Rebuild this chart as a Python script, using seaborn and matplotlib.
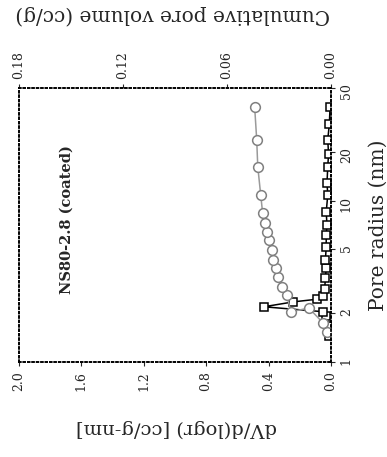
import matplotlib
matplotlib.use("Agg")
import matplotlib.pyplot as plt
import seaborn as sns

# pore radius (nm) / cumulative pore volume (cc/g), in measured order
cum_radius = [1.54, 1.75, 2.16, 2.05, 2.61, 2.92, 3.37, 3.84, 4.30, 4.96,
              5.73, 6.42, 7.30, 8.42, 10.9, 16.3, 23.9, 38.4]
cum_volume = [0.0023, 0.0046, 0.0127, 0.0231, 0.0255, 0.0284, 0.0307, 0.0318,
              0.0336, 0.0341, 0.0359, 0.0370, 0.0382, 0.0394, 0.0405, 0.0422,
              0.0428, 0.0440]

# pore radius (nm) / dV/d(logr) (cc/g-nm)
psd_radius = [1.45, 1.67, 1.93, 2.05, 2.2, 2.36, 2.45, 2.55, 2.85, 3.3, 3.85,
              4.3, 5.2, 6.1, 7.1, 8.5, 10.9, 12.9, 16.3, 19.5, 23.9, 30.0, 38.4]
psd_dv = [0.01, 0.02, 0.03, 0.05, 0.43, 0.24, 0.09, 0.05, 0.04, 0.035, 0.03,
          0.035, 0.03, 0.03, 0.025, 0.03, 0.02, 0.025, 0.02, 0.015, 0.02, 0.01,
          0.005]

dv_ticks = [2.0, 1.6, 1.2, 0.8, 0.4, 0.0]
cum_ticks = [0.18, 0.12, 0.06, 0.00]
radius_ticks = [1, 2, 5, 10, 20, 50]

sns.set_style("white")
plt.rcParams["font.family"] = ["DejaVu Serif"]

fig = plt.figure(figsize=(3.87, 4.57), dpi=100)
ax = fig.add_axes([0.049, 0.208, 0.806, 0.599])

sns.lineplot(x=psd_dv, y=psd_radius, sort=False, estimator=None, ax=ax,
             color="black", lw=1.1, marker="s", markersize=6,
             markerfacecolor="white", markeredgecolor="black", markeredgewidth=1.1)

ax.set_yscale("log")
ax.set_ylim(1, 50)
ax.set_xlim(2.0, 0.0)
ax.set_yticks(radius_ticks)
ax.set_yticklabels([str(t) for t in radius_ticks])
ax.yaxis.set_minor_locator(matplotlib.ticker.NullLocator())
ax.yaxis.tick_right()
ax.set_xticks(dv_ticks)
ax.set_xticklabels([f"{t:.1f}" for t in dv_ticks])
ax.tick_params(axis="x", labelsize=9, labelrotation=90, direction="out", length=3)
ax.tick_params(axis="y", labelsize=9, labelrotation=90, direction="out", length=3)
ax.set_xlabel("")
ax.set_ylabel("")

ax2 = ax.twiny()
sns.lineplot(x=cum_volume, y=cum_radius, sort=False, estimator=None, ax=ax2,
             color="#9a9a9a", lw=1.1, marker="o", markersize=7,
             markerfacecolor="white", markeredgecolor="#808080", markeredgewidth=1.1)
ax2.set_xlim(0.18, 0.0)
ax2.set_xticks(cum_ticks)
ax2.set_xticklabels([f"{t:.2f}" for t in cum_ticks])
ax2.tick_params(axis="x", labelsize=9, labelrotation=90, direction="out", length=3)
ax2.set_ylim(1, 50)

for a in (ax, ax2):
    for s in a.spines.values():
        s.set_linestyle(":")
        s.set_linewidth(1.2)
        s.set_color("black")

ax.text(0.154, 0.52, "NS80-2.8 (coated)", transform=ax.transAxes, rotation=90,
        ha="center", va="center", fontsize=10.5, fontweight="bold")

fig.text(0.457, 0.063, "dV/d(logr) [cc/g-nm]", rotation=180, ha="center",
         va="center", fontsize=14)
fig.text(0.445, 0.967, "Cumulative pore volume (cc/g)", rotation=180,
         ha="center", va="center", fontsize=14.5)
fig.text(0.977, 0.508, "Pore radius (nm)", rotation=90, ha="center",
         va="center", fontsize=14.5)

fig.savefig("out.png", dpi=100)
